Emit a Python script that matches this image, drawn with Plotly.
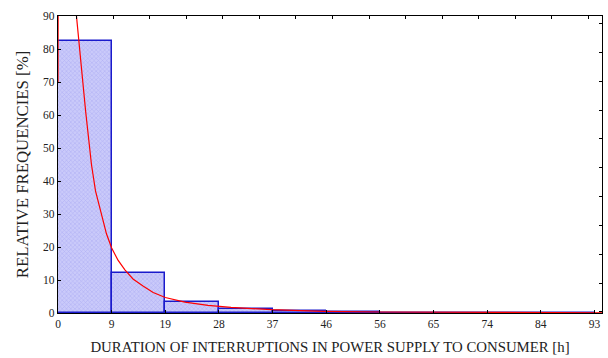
import plotly.graph_objects as go

# Histogram data (bin width 9.3 h)
bin_lefts = [0, 9.3, 18.6, 27.9, 37.2, 46.5, 55.8, 65.1, 74.4, 83.7]
bin_width = 9.3
rel_freq = [82.5, 12.2, 3.4, 1.2, 0.5, 0.3, 0.1, 0.1, 0.1, 0.05]

# Fitted density curve
curve_x = [0, 0.15, 3.2, 3.8, 4.3, 4.8, 5.3, 5.8, 6.5, 7.5, 8.4, 9.3, 10.4,
           11.6, 13.0, 14.8, 16.5, 18.6, 22, 26, 30, 37, 42, 46, 56, 65, 74,
           84, 93, 94.3]
curve_y = [70, 200, 90, 80, 70, 61, 52, 45, 37, 30, 24, 19.7, 16,
           13.1, 10.3, 8.1, 6.2, 4.7, 3.3, 2.3, 1.7, 1.0, 0.7, 0.5, 0.3, 0.2,
           0.15, 0.1, 0.08, 0.08]

tick_vals = [0, 9.3, 18.6, 27.9, 37.2, 46.5, 55.8, 65.1, 74.4, 83.7, 93.0]
tick_text = ["0", "9", "19", "28", "37", "46", "56", "65", "74", "84", "93"]

fig = go.Figure()
fig.add_trace(go.Bar(
    x=bin_lefts, y=rel_freq, width=[bin_width] * len(bin_lefts), offset=0,
    marker=dict(color="#c0c0f8",
                line=dict(color="#1a1acc", width=1.5),
                pattern=dict(shape="x", size=3, solidity=0.3,
                             fgcolor="#9090ee", bgcolor="#cacafa")),
    showlegend=False, hoverinfo="skip",
))
fig.add_trace(go.Scatter(
    x=curve_x, y=curve_y, mode="lines",
    line=dict(color="#ff0000", width=1.2),
    showlegend=False, hoverinfo="skip",
))
# invisible trace for the secondary (tick-only) axes
fig.add_trace(go.Scatter(x=[None], y=[None], xaxis="x2", yaxis="y2",
                         showlegend=False, hoverinfo="skip"))

font = dict(family="Liberation Serif, Times New Roman, serif", color="#222222")
fig.update_layout(
    width=608, height=358,
    margin=dict(l=58, r=6, t=16, b=45),
    paper_bgcolor="white", plot_bgcolor="white",
    font=dict(size=12, **font),
    bargap=0,
    xaxis=dict(range=[0, 94.3], tickvals=tick_vals, ticktext=tick_text,
               ticks="inside", ticklen=3, tickcolor="black",
               showline=True, linecolor="black", linewidth=1.2,
               showgrid=False, zeroline=False,
               tickfont=dict(size=11.5, **font),
               title=dict(text="DURATION OF INTERRUPTIONS IN POWER SUPPLY TO CONSUMER [h]",
                          font=dict(size=14.8, **font), standoff=12)),
    yaxis=dict(range=[0, 90], tick0=0, dtick=10,
               ticks="inside", ticklen=3, tickcolor="black",
               showline=True, linecolor="black", linewidth=1.2,
               showgrid=False, zeroline=False,
               tickfont=dict(size=11.5, **font),
               title=dict(text="RELATIVE FREQUENCIES [%]",
                          font=dict(size=16.8, **font), standoff=10)),
    xaxis2=dict(overlaying="x", side="top", range=[0, 94.3],
                tick0=3.2, dtick=6.34, ticks="inside", ticklen=3,
                tickcolor="black", showticklabels=False,
                showline=True, linecolor="black", linewidth=1.2,
                showgrid=False, zeroline=False),
    yaxis2=dict(overlaying="y", side="right", range=[0, 90],
                tick0=9.08, dtick=8.73, ticks="inside", ticklen=3,
                tickcolor="black", showticklabels=False,
                showline=True, linecolor="black", linewidth=1.2,
                showgrid=False, zeroline=False),
)

fig.write_html("out.html")
